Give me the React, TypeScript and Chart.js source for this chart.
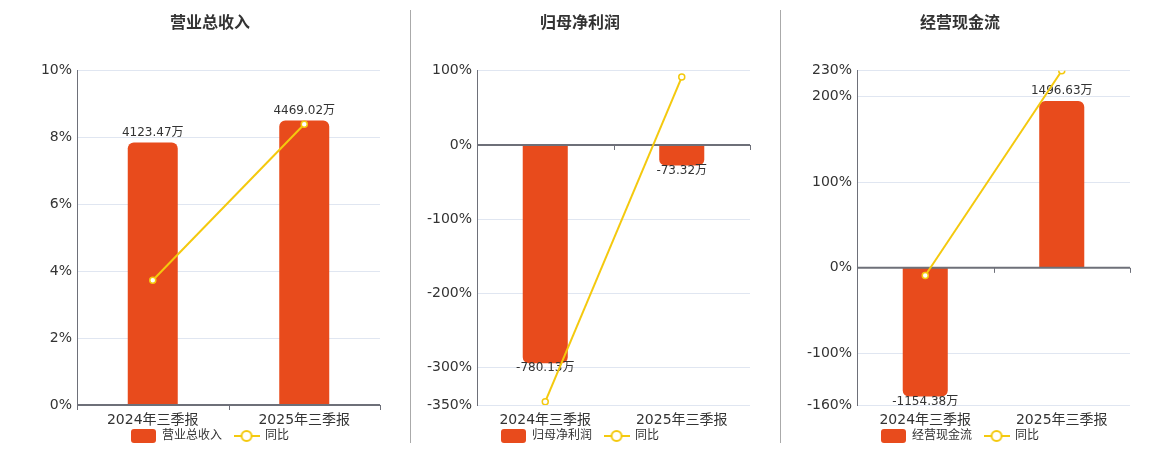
import React, { useEffect, useRef } from 'react';
import { Chart, registerables } from 'chart.js';

Chart.register(...registerables);

// ---- data ----
const categories = ['2024年三季报', '2025年三季报'];

const revenueTitle = '营业总收入';
const revenueValues = [4123.47, 4469.02];
const revenueYoY = [3.73, 8.4];
const revenueTicks = [0, 2, 4, 6, 8, 10];
const revenueBarRange = [0, 5252];

const profitTitle = '归母净利润';
const profitValues = [-780.13, -73.32];
const profitYoY = [-345.5, 91.5];
const profitTicks = [-350, -300, -200, -100, 0, 100];
const profitBarRange = [-929, 265.4];

const cashTitle = '经营现金流';
const cashValues = [-1154.38, 1496.63];
const cashYoY = [-8.9, 230];
const cashTicks = [-160, -100, 0, 100, 200, 230];
const cashBarRange = [-1230, 1768];

const yoyLabel = '同比';

// ---- styles ----
const FONT = '"DejaVu Sans", "Noto Sans CJK SC", sans-serif';
const RED = '#E84B1C';
const YELLOW = '#F4C90E';
const AXIS = '#6E7079';
const GRID = '#E0E6F1';
const TEXT = '#333';

function makeBarSymbol(): HTMLCanvasElement {
  const c = document.createElement('canvas');
  c.width = 25;
  c.height = 14;
  const ctx = c.getContext('2d')!;
  ctx.fillStyle = RED;
  ctx.beginPath();
  (ctx as any).roundRect(0, 0, 25, 14, 3);
  ctx.fill();
  return c;
}

function makeLineSymbol(): HTMLCanvasElement {
  const c = document.createElement('canvas');
  c.width = 26;
  c.height = 14;
  const ctx = c.getContext('2d')!;
  ctx.strokeStyle = YELLOW;
  ctx.lineWidth = 2;
  ctx.beginPath();
  ctx.moveTo(0, 7);
  ctx.lineTo(26, 7);
  ctx.stroke();
  ctx.beginPath();
  ctx.arc(13, 7, 5, 0, Math.PI * 2);
  ctx.fillStyle = '#fff';
  ctx.fill();
  ctx.stroke();
  return c;
}

const overlayPlugin = {
  id: 'overlay',
  afterDatasetDraw(chart: any, args: any) {
    if (args.meta.type !== 'bar') return;
    const { ctx, chartArea } = chart;
    const yScale = chart.scales.y;
    const zeroY = yScale.getPixelForValue(0);
    ctx.save();
    // zero axis line
    ctx.strokeStyle = AXIS;
    ctx.lineWidth = 2;
    ctx.beginPath();
    ctx.moveTo(chartArea.left, zeroY);
    ctx.lineTo(chartArea.right, zeroY);
    ctx.stroke();
    // category boundary ticks
    ctx.lineWidth = 1;
    const n = chart.data.labels.length;
    const w = (chartArea.right - chartArea.left) / n;
    for (let i = 0; i <= n; i++) {
      const x = Math.round(chartArea.left + i * w) + 0.5;
      ctx.beginPath();
      ctx.moveTo(x, zeroY);
      ctx.lineTo(x, zeroY + 5);
      ctx.stroke();
    }
    // value labels
    ctx.fillStyle = TEXT;
    ctx.font = '12px ' + FONT;
    ctx.textAlign = 'center';
    const values = chart.data.datasets[args.index].data;
    args.meta.data.forEach((el: any, i: number) => {
      const v = values[i];
      const text = v.toFixed(2) + '万';
      if (v >= 0) {
        ctx.textBaseline = 'bottom';
        ctx.fillText(text, el.x, el.y - 4);
      } else {
        ctx.textBaseline = 'top';
        ctx.fillText(text, el.x, el.y - 1);
      }
    });
    ctx.restore();
  },
  afterDraw(chart: any) {
    const { ctx, chartArea } = chart;
    const xScale = chart.scales.x;
    ctx.save();
    ctx.fillStyle = TEXT;
    ctx.font = '14px ' + FONT;
    ctx.textAlign = 'center';
    ctx.textBaseline = 'middle';
    chart.data.labels.forEach((lab: string, i: number) => {
      ctx.fillText(lab, xScale.getPixelForValue(i), chartArea.bottom + 15);
    });
    ctx.restore();
  },
};

interface Spec {
  title: string;
  values: number[];
  yoy: number[];
  ticks: number[];
  barRange: number[];
  rightPad: number;
}

function ComboChart({ spec, left, width }: { spec: Spec; left: number; width: number }) {
  const ref = useRef<HTMLCanvasElement>(null);
  useEffect(() => {
    const barSym = makeBarSymbol();
    const lineSym = makeLineSymbol();
    const tmin = Math.min(...spec.ticks);
    const tmax = Math.max(...spec.ticks);
    const chart = new Chart(ref.current!, {
      type: 'bar',
      data: {
        labels: categories,
        datasets: [
          {
            type: 'line',
            label: yoyLabel,
            data: spec.yoy,
            yAxisID: 'y',
            borderColor: YELLOW,
            borderWidth: 2,
            pointRadius: 3,
            pointBorderWidth: 1.5,
            pointBackgroundColor: '#fff',
            pointBorderColor: YELLOW,
            tension: 0,
            order: 0,
          } as any,
          {
            type: 'bar',
            label: spec.title,
            data: spec.values,
            yAxisID: 'yBar',
            backgroundColor: RED,
            borderRadius: 6,
            borderSkipped: 'start',
            barPercentage: 0.33,
            categoryPercentage: 1,
            order: 1,
          } as any,
        ],
      },
      options: {
        responsive: false,
        animation: false,
        devicePixelRatio: 1,
        layout: { padding: 0 },
        plugins: {
          title: {
            display: true,
            text: spec.title,
            color: TEXT,
            font: { size: 16, weight: 'bold', family: FONT, lineHeight: 1.2 },
            padding: { top: 14, bottom: 37.5 },
          },
          legend: {
            position: 'bottom',
            labels: {
              usePointStyle: true,
              pointStyleWidth: 25,
              padding: 12,
              color: TEXT,
              font: { size: 12, family: FONT },
              generateLabels: () => [
                {
                  text: spec.title,
                  pointStyle: barSym,
                  fillStyle: RED,
                  strokeStyle: 'transparent',
                  lineWidth: 0,
                  hidden: false,
                  datasetIndex: 1,
                  fontColor: TEXT,
                } as any,
                {
                  text: yoyLabel,
                  pointStyle: lineSym,
                  fillStyle: '#fff',
                  strokeStyle: 'transparent',
                  lineWidth: 0,
                  hidden: false,
                  datasetIndex: 0,
                  fontColor: TEXT,
                } as any,
              ],
            },
          },
          tooltip: { enabled: false },
        },
        scales: {
          x: {
            grid: { display: false },
            border: { display: false },
            ticks: { display: false },
            afterFit: (s: any) => {
              s.height = 13;
            },
          },
          y: {
            position: 'left',
            min: tmin,
            max: tmax,
            afterBuildTicks: (s: any) => {
              s.ticks = spec.ticks.map((v) => ({ value: v }));
            },
            ticks: {
              color: TEXT,
              font: { size: 14, family: FONT },
              padding: 5,
              callback: (v: any) => v + '%',
            },
            grid: {
              drawTicks: false,
              color: (c: any) => (c.tick && c.tick.value === 0 ? 'rgba(0,0,0,0)' : GRID),
              lineWidth: 1,
            },
            border: { display: true, color: AXIS, width: 1 },
            afterFit: (s: any) => {
              s.width = 77;
            },
          },
          yBar: {
            position: 'right',
            min: spec.barRange[0],
            max: spec.barRange[1],
            grid: { display: false },
            border: { display: false },
            ticks: { display: false },
            afterFit: (s: any) => {
              s.width = spec.rightPad;
            },
          },
        },
      } as any,
      plugins: [overlayPlugin],
    });
    return () => chart.destroy();
  }, []);
  return (
    <canvas
      ref={ref}
      width={width}
      height={452}
      style={{ position: 'absolute', left, top: 0, width, height: 452 }}
    />
  );
}

export default function App() {
  const specs: Spec[] = [
    { title: revenueTitle, values: revenueValues, yoy: revenueYoY, ticks: revenueTicks, barRange: revenueBarRange, rightPad: 40 },
    { title: profitTitle, values: profitValues, yoy: profitYoY, ticks: profitTicks, barRange: profitBarRange, rightPad: 10 },
    { title: cashTitle, values: cashValues, yoy: cashYoY, ticks: cashTicks, barRange: cashBarRange, rightPad: 10 },
  ];
  return (
    <div
      style={{
        position: 'absolute',
        left: 0,
        top: 0,
        width: 1160,
        height: 450,
        background: '#fff',
        overflow: 'hidden',
      }}
    >
      <ComboChart spec={specs[0]} left={0} width={420} />
      <ComboChart spec={specs[1]} left={400} width={360} />
      <ComboChart spec={specs[2]} left={780} width={360} />
      <div style={{ position: 'absolute', left: 410, top: 10, width: 1, height: 433, background: '#aaa' }} />
      <div style={{ position: 'absolute', left: 780, top: 10, width: 1, height: 433, background: '#aaa' }} />
    </div>
  );
}
